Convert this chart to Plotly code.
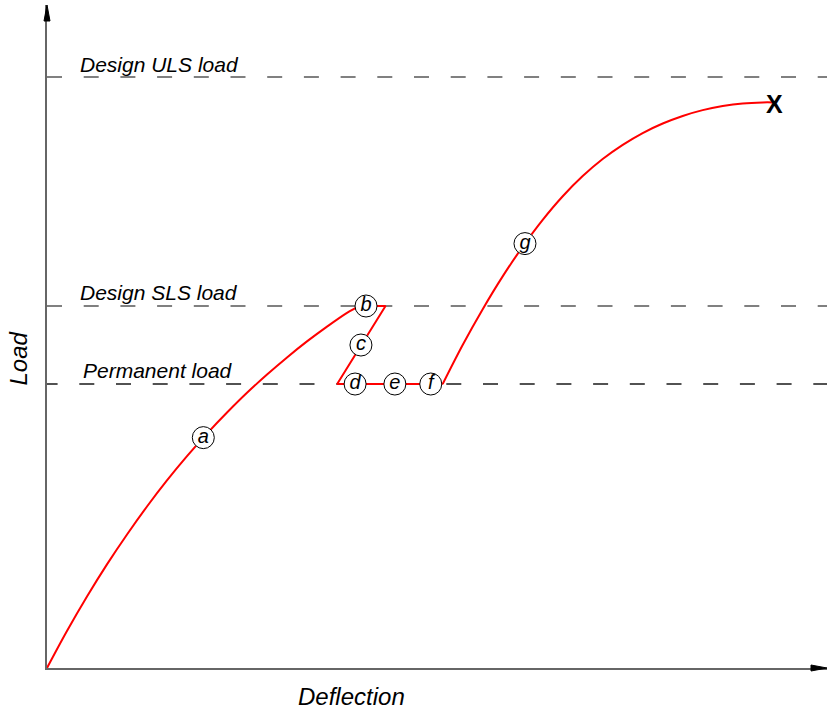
import plotly.graph_objects as go

# ---- data -------------------------------------------------------------
# Reference load levels (per cent of the design ULS load)
uls_load = 100.0
sls_load = 61.25
permanent_load = 48.05

# a: first loading up to the SLS load
a_defl = [0.0, 2.56, 5.13, 7.69, 10.26, 12.82, 15.38, 17.95, 20.51,
          23.08, 25.64, 28.21, 30.77, 33.33, 35.90, 38.46, 40.0]
a_load = [0.0, 6.26, 12.10, 17.53, 22.59, 27.33, 31.74, 35.84, 39.66,
          43.23, 46.57, 49.66, 52.55, 55.26, 57.77, 60.10, 61.25]

# b: hold at SLS, c: unloading, d-e-f: sustained permanent load
bf_defl = [40.0, 43.4, 37.2, 50.73]
bf_load = [61.25, 61.25, 48.05, 48.05]

# g: reloading up to failure (X)
g_defl = [50.73, 53.29, 55.86, 58.42, 60.99, 63.55, 66.12, 68.68, 71.24,
          73.81, 76.37, 78.94, 81.50, 84.06, 86.63, 89.19, 91.76, 93.12]
g_load = [48.05, 54.65, 60.71, 66.26, 71.30, 75.83, 79.83, 83.24, 86.12,
          88.52, 90.52, 92.13, 93.41, 94.40, 95.09, 95.53, 95.70, 95.70]

stage_labels = ["a", "b", "c", "d", "e", "f", "g"]
stage_defl = [20.04, 40.9, 40.25, 39.5, 44.6, 49.2, 61.28]
stage_load = [38.98, 61.25, 54.65, 48.05, 48.05, 48.05, 71.81]

failure_defl = 93.12
failure_load = 95.70

level_names = ["Design ULS load", "Design SLS load", "Permanent load"]
level_values = [uls_load, sls_load, permanent_load]

# ---- geometry -----------------------------------------------------------
W, H = 827, 713
M_L, M_R, M_T, M_B = 47, 0, 5, 45
PLOT_W = W - M_L - M_R
PLOT_H = H - M_T - M_B
X_MAX = 100.0
PX_PER_LOAD = 5.91
Y_MAX = PLOT_H / PX_PER_LOAD
PX_PER_DEFL = PLOT_W / X_MAX

FONT = "Liberation Sans, Arial, sans-serif"
RED = "#ff0000"


def px_to_paper(px, py):
    return (px - M_L) / PLOT_W, (H - M_B - py) / PLOT_H


fig = go.Figure()

# dashed reference levels
level_colors = ["#808080", "#808080", "#1a1a1a"]
level_widths = [2, 2, 1.4]
level_phase_px = [0, 0, 4.4]
for val, col, lw, ph in zip(level_values, level_colors, level_widths, level_phase_px):
    fig.add_trace(go.Scatter(
        x=[-ph / PX_PER_DEFL, X_MAX], y=[val, val], mode="lines",
        line=dict(color=col, width=lw, dash="15px,21.7px"),
        hoverinfo="skip", showlegend=False))

# load-deflection path
fig.add_trace(go.Scatter(x=a_defl, y=a_load, mode="lines",
                         line=dict(color=RED, width=2, shape="spline", smoothing=1),
                         showlegend=False))
fig.add_trace(go.Scatter(x=bf_defl, y=bf_load, mode="lines",
                         line=dict(color=RED, width=2),
                         showlegend=False))
fig.add_trace(go.Scatter(x=g_defl, y=g_load, mode="lines",
                         line=dict(color=RED, width=2, shape="spline", smoothing=1),
                         showlegend=False))

# stage markers
fig.add_trace(go.Scatter(
    x=stage_defl, y=stage_load, mode="markers+text", text=stage_labels,
    textposition="middle center",
    marker=dict(size=22, color="white", line=dict(color="black", width=1)),
    textfont=dict(family=FONT, size=20, color="black", style="italic"),
    cliponaxis=False, showlegend=False))

# failure point
fig.add_annotation(x=failure_defl, y=failure_load, xref="x", yref="y",
                   text="<b>X</b>", showarrow=False, xanchor="center",
                   yanchor="middle", yshift=-2, xshift=1,
                   font=dict(family=FONT, size=25, color="black"))

# level labels
label_left_px = [79, 79, 82]
label_shift_px = [13, 14, 14]
for name, val, lx, sh in zip(level_names, level_values, label_left_px, label_shift_px):
    fig.add_annotation(
        x=(lx - M_L) / PX_PER_DEFL, y=val, xref="x", yref="y",
        text=name, showarrow=False, xanchor="left", yanchor="middle",
        yshift=sh, borderpad=0,
        font=dict(family=FONT, size=21, color="black", style="italic"))

# axis titles
dx, dy = px_to_paper(351, 696)
fig.add_annotation(x=dx, y=dy, xref="paper", yref="paper", text="Deflection",
                   showarrow=False, xanchor="center", yanchor="middle",
                   font=dict(family=FONT, size=24, color="black", style="italic"))
lx, ly = px_to_paper(17.5, 359)
fig.add_annotation(x=lx, y=ly, xref="paper", yref="paper", text="Load",
                   showarrow=False, xanchor="center", yanchor="middle", textangle=-90,
                   font=dict(family=FONT, size=24, color="black", style="italic"))

# arrow heads at the axis ends
def tri(p0, p1, p2):
    (x0, y0), (x1, y1), (x2, y2) = [px_to_paper(*p) for p in (p0, p1, p2)]
    return f"M {x0},{y0} L {x1},{y1} L {x2},{y2} Z"

fig.add_shape(type="path", xref="paper", yref="paper",
              path=tri((47, 5), (44, 21), (50, 21)),
              fillcolor="black", line=dict(color="black", width=1))
fig.add_shape(type="path", xref="paper", yref="paper",
              path=tri((827, 668), (811, 665), (811, 671)),
              fillcolor="black", line=dict(color="black", width=1))

fig.update_layout(
    width=W, height=H,
    margin=dict(l=M_L, r=M_R, t=M_T, b=M_B, pad=0),
    plot_bgcolor="white", paper_bgcolor="white",
    xaxis=dict(range=[0, X_MAX], showgrid=False, zeroline=False, showticklabels=False,
               ticks="", showline=True, linecolor="#666666", linewidth=2, fixedrange=True),
    yaxis=dict(range=[0, Y_MAX], showgrid=False, zeroline=False, showticklabels=False,
               ticks="", showline=True, linecolor="#666666", linewidth=2, fixedrange=True),
    showlegend=False,
)

fig.write_html("out.html")
